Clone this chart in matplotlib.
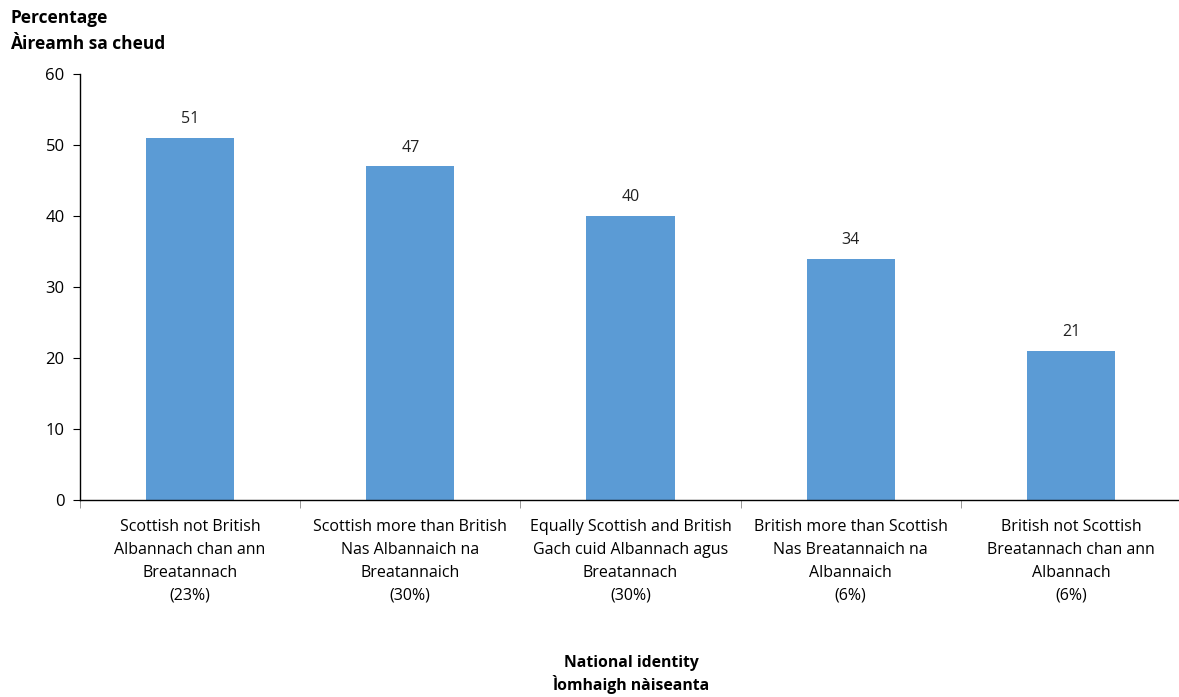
import matplotlib
matplotlib.use("Agg")
import matplotlib.pyplot as plt
import numpy as np

categories = [
    "Scottish not British\nAlbannach chan ann\nBreatannach\n(23%)",
    "Scottish more than British\nNas Albannaich na\nBreatannaich\n(30%)",
    "Equally Scottish and British\nGach cuid Albannach agus\nBreatannach\n(30%)",
    "British more than Scottish\nNas Breatannaich na\nAlbannaich\n(6%)",
    "British not Scottish\nBreatannach chan ann\nAlbannach\n(6%)",
]
values = [51, 47, 40, 34, 21]
y_ticks = [0, 10, 20, 30, 40, 50, 60]

plt.rcParams['font.family'] = ['Open Sans', 'DejaVu Sans']

W, H = 1179, 697
fig = plt.figure(figsize=(W / 100, H / 100), dpi=100)
left, right = 80 / W, 1181 / W
bottom, top = 1 - 500 / H, 1 - 74 / H
ax = fig.add_axes([left, bottom, right - left, top - bottom])

x = np.arange(len(values))
bars = ax.bar(x, values, width=0.4, color="#5B9BD5")
for xi, v in zip(x, values):
    ax.text(xi, v + 1.5, str(v), ha="center", va="bottom", fontsize=11.5, color="#222222")

ax.set_xlim(-0.5, len(values) - 0.5)
ax.set_ylim(0, 60)
ax.set_yticks(y_ticks)
ax.set_yticklabels([str(t) for t in y_ticks], fontsize=12)
ax.set_xticks(x)
ax.set_xticklabels(categories, fontsize=11.5, linespacing=1.55)
ax.tick_params(axis="x", length=0, pad=14)
ax.set_xticks(np.arange(len(values) + 1) - 0.5, minor=True)
ax.tick_params(axis="x", which="minor", length=6, color="#888888", direction="out")
ax.tick_params(axis="y", length=5, direction="out", pad=6)

for s in ["top", "right"]:
    ax.spines[s].set_visible(False)
ax.spines["left"].set_linewidth(1.0)
ax.spines["bottom"].set_linewidth(1.0)

fig.text(10 / W, 1 - 18 / H, "Percentage", fontsize=12.5, fontweight="bold", ha="left", va="center")
fig.text(10 / W, 1 - 44 / H, "Àireamh sa cheud", fontsize=12.5, fontweight="bold", ha="left", va="center")
fig.text(631 / W, 1 - 663 / H, "National identity", fontsize=11.3, fontweight="bold", ha="center", va="center")
fig.text(631 / W, 1 - 684 / H, "Ìomhaigh nàiseanta", fontsize=11.3, fontweight="bold", ha="center", va="center")

fig.savefig("out.png", dpi=100)
